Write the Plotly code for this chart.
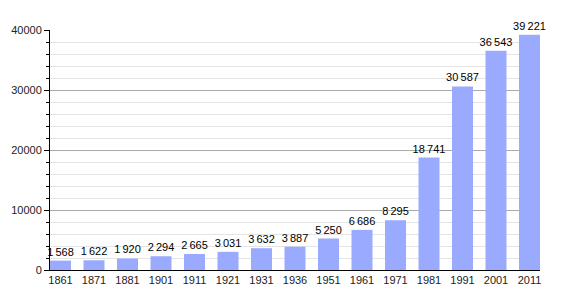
import plotly.graph_objects as go

years = ["1861", "1871", "1881", "1901", "1911", "1921", "1931", "1936",
         "1951", "1961", "1971", "1981", "1991", "2001", "2011"]
population = [1568, 1622, 1920, 2294, 2665, 3031, 3632, 3887,
              5250, 6686, 8295, 18741, 30587, 36543, 39221]
y_ticks = [0, 10000, 20000, 30000, 40000]

labels = [f"{v:,}".replace(",", "\u2009") for v in population]
xs = list(range(len(years)))
bw = 0.627

fig = go.Figure(go.Bar(
    x=xs, y=population, width=bw,
    marker=dict(color="#99aaff", line=dict(width=0)),
    text=labels, textposition="outside", cliponaxis=False,
    constraintext="none",
    textfont=dict(family="Liberation Sans, Arial", size=11, color="#000"),
))

fig.update_layout(
    width=570, height=300,
    margin=dict(l=50, r=30, t=30, b=30),
    paper_bgcolor="white", plot_bgcolor="white",
    showlegend=False,
    font=dict(family="Liberation Sans, Arial", size=11, color="#222"),
    xaxis=dict(
        tickmode="array", tickvals=xs, ticktext=years,
        range=[-bw / 2, len(years) - 1 + bw / 2],
        showgrid=False, showline=True, linecolor="#000", linewidth=1,
        ticks="", zeroline=False,
    ),
    yaxis=dict(
        range=[0, 40000], tickmode="array", tickvals=y_ticks,
        ticktext=[str(v) for v in y_ticks],
        showline=True, linecolor="#000", linewidth=1,
        ticks="outside", ticklen=5, tickcolor="#000",
        showgrid=True, gridcolor="#aaaaaa", gridwidth=1,
        zeroline=False,
        minor=dict(dtick=2000, ticks="outside", ticklen=3, tickcolor="#000",
                   showgrid=True, gridcolor="#e4e4e4", gridwidth=1),
    ),
)

fig.write_html("out.html")
